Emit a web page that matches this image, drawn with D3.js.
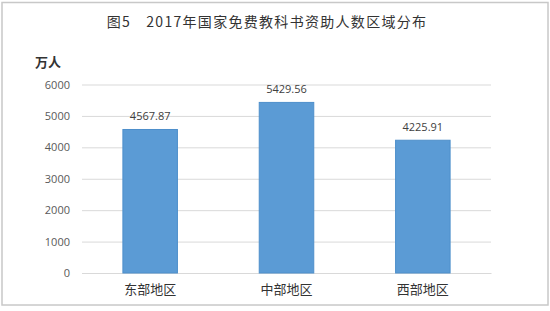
<!DOCTYPE html>
<html><head><meta charset="utf-8">
<script src="https://cdn.jsdelivr.net/npm/d3@7"></script>
<style>body{margin:0;background:#fff;}svg{display:block;}</style>
</head><body>
<svg id="c" width="550" height="311"></svg>
<script>
const categories = ["东部地区", "中部地区", "西部地区"];
const values = [4567.87, 5429.56, 4225.91];
const yTicks = [0, 1000, 2000, 3000, 4000, 5000, 6000];
const titleText = "图5　2017年国家免费教科书资助人数区域分布";
const unitText = "万人";

const svg = d3.select("#c");
svg.append("rect").attr("x", 2).attr("y", 2.5).attr("width", 546).attr("height", 302.5)
  .attr("fill", "#fff").attr("stroke", "#c8c8c8").attr("stroke-width", 1.5);

const x = d3.scaleBand().domain(categories).range([82, 491]).paddingInner(0.6).paddingOuter(0.3);
const y = d3.scaleLinear().domain([0, 6000]).range([273, 84.5]);

svg.append("text").attr("x", 267).attr("y", 27).attr("text-anchor", "middle")
  .attr("font-family", "'Noto Sans CJK SC', sans-serif").attr("font-size", 14)
  .attr("letter-spacing", 1.3).attr("fill", "#333").text(titleText);

svg.append("text").attr("x", 35).attr("y", 67)
  .attr("font-family", "'Noto Sans CJK SC', sans-serif").attr("font-size", 13).attr("font-weight", "bold")
  .attr("fill", "#333").text(unitText);

const yAxis = d3.axisLeft(y).tickValues(yTicks).tickFormat(d3.format("d")).tickSize(-(491 - 82)).tickPadding(12);
const ga = svg.append("g").attr("transform", "translate(82,0)").call(yAxis);
ga.select(".domain").remove();
ga.selectAll(".tick line").attr("stroke", "#d9d9d9").attr("stroke-width", 1);
ga.selectAll(".tick text").attr("font-family", "'Open Sans', sans-serif").attr("font-size", 11).attr("fill", "#595959");

const xAxis = d3.axisBottom(x).tickSize(0).tickPadding(12);
const gx = svg.append("g").attr("transform", "translate(0,273)").call(xAxis);
gx.select(".domain").attr("stroke", "#d9d9d9");
gx.selectAll(".tick text").attr("font-family", "'Noto Sans CJK SC', sans-serif").attr("font-size", 13).attr("fill", "#333");

svg.selectAll("rect.bar").data(values).enter().append("rect").attr("class", "bar")
  .attr("x", (d, i) => x(categories[i])).attr("width", x.bandwidth())
  .attr("y", d => y(d)).attr("height", d => y(0) - y(d))
  .attr("fill", "#5b9bd5").attr("stroke", "#4e8fcb").attr("stroke-width", 1);

svg.selectAll("text.val").data(values).enter().append("text").attr("class", "val")
  .attr("x", (d, i) => x(categories[i]) + x.bandwidth() / 2).attr("y", d => y(d) - 9)
  .attr("text-anchor", "middle").attr("font-family", "'Open Sans', sans-serif").attr("font-size", 11)
  .attr("fill", "#404040").text(d => d.toFixed(2));
</script>
</body></html>
